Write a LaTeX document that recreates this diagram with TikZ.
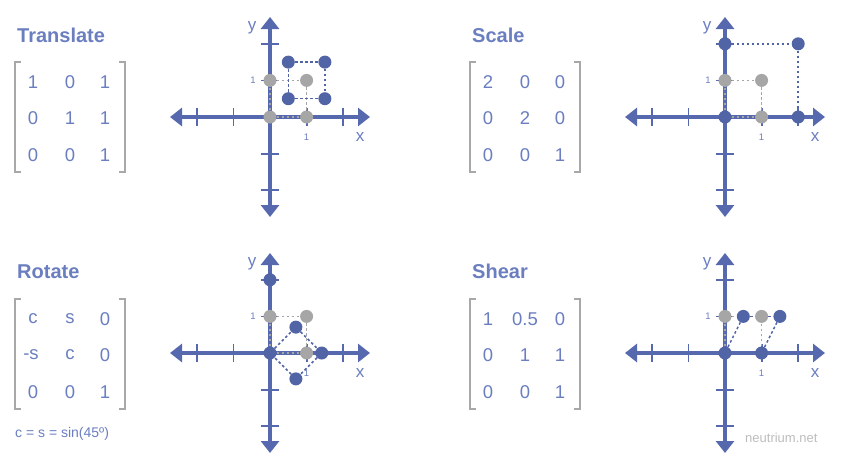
\documentclass[tikz,border=0pt]{standalone}
\usepackage{fontspec}
\setmainfont{Liberation Sans}
\usetikzlibrary{arrows.meta}
\definecolor{axblue}{HTML}{5668AE}
\definecolor{dotblue}{HTML}{5064A6}
\definecolor{txtblue}{HTML}{6A7EC0}
\definecolor{dotgray}{HTML}{A6A6A6}
\definecolor{brgray}{HTML}{A8A8A8}
\definecolor{wmgray}{HTML}{BDBDBD}
\tikzset{
 axisline/.style={axblue, line width=4pt, {Triangle[length=12pt,width=18pt]}-{Triangle[length=12pt,width=18pt]}},
 tickline/.style={axblue, line width=1.8pt},
 bdot/.style={circle, fill=dotblue, inner sep=0pt, minimum size=13pt},
 gdot/.style={circle, fill=dotgray, inner sep=0pt, minimum size=13pt},
 bdash/.style={dotblue, line width=1.5pt, dash pattern=on 2.6pt off 2.4pt},
 gdash/.style={dotgray, line width=1.5pt, dash pattern=on 2.6pt off 2.4pt},
 titletext/.style={anchor=base west, txtblue, font=\bfseries\fontsize{20}{24}\selectfont, inner sep=0pt},
 entry/.style={txtblue, font=\fontsize{18.5}{20}\selectfont, inner sep=0pt},
 ticklab/.style={txtblue, font=\fontsize{9.5}{10}\selectfont, inner sep=0pt},
 axlab/.style={txtblue, font=\fontsize{17}{18}\selectfont, inner sep=0pt},
 bracketline/.style={brgray, line width=1.8pt},
 panel/.style={x=36.6pt, y=36.6pt},
}
\newcommand\myaxes[1]{%
 \coordinate (#1L) at (-100pt,0); \coordinate (#1R) at (100pt,0);
 \coordinate (#1T) at (0,100pt); \coordinate (#1B) at (0,-100pt);
 \draw[axisline] (#1L) -- (#1R);
 \draw[axisline] (#1B) -- (#1T);
 \foreach \k in {-2,-1,1,2} {\draw[tickline] (\k,-9pt) -- (\k,9pt); \draw[tickline] (-9pt,\k) -- (9pt,\k);}
 \node[axlab] (#1x) at (90pt,-20pt) {x};
 \node[axlab] (#1y) at (-18pt,89pt) {y};
 \node[ticklab] (#1one) at (1,-20pt) {1};
 \node[ticklab] (#1onev) at (-17pt,1) {1};
}
\newcommand\mymatrix[1]{%
 \draw[bracketline] (6,0) -- (0,0) -- (0,110) -- (6,110);
 \draw[bracketline] (104,0) -- (110,0) -- (110,110) -- (104,110);
}
\begin{document}
\begin{tikzpicture}[x=1pt,y=-1pt]
\useasboundingbox (0,0) rectangle (853,474);
% ---------- Translate ----------
\node[titletext] (ttitle) at (17,42) {Translate};
\begin{scope}[shift={(15,62)}]
 \mymatrix{t}
 \node[entry] (tm11) at (18,20) {1}; \node[entry] (tm12) at (55,20) {0}; \node[entry] (tm13) at (90,20) {1};
 \node[entry] (tm21) at (18,56) {0}; \node[entry] (tm22) at (55,56) {1}; \node[entry] (tm23) at (90,56) {1};
 \node[entry] (tm31) at (18,93) {0}; \node[entry] (tm32) at (55,93) {0}; \node[entry] (tm33) at (90,93) {1};
\end{scope}
\begin{scope}[shift={(270,117)}, panel]
 \myaxes{ta}
 \node[gdot] (t00) at (0,0) {}; \node[gdot] (t10) at (1,0) {};
 \node[gdot] (t01) at (0,1) {}; \node[gdot] (t11) at (1,1) {};
 \node[bdot] (te) at (0.5,0.5) {}; \node[bdot] (tf) at (1.5,0.5) {};
 \node[bdot] (tg) at (0.5,1.5) {}; \node[bdot] (th) at (1.5,1.5) {};
 \draw[gdash] (t00) -- (t10); \draw[gdash] (t00) -- (t01);
 \draw[gdash] (t01) -- (t11); \draw[gdash] (t11) -- (t10);
 \draw[bdash] (te) -- (tf); \draw[bdash] (te) -- (tg);
 \draw[bdash] (tg) -- (th); \draw[bdash] (th) -- (tf);
\end{scope}
% ---------- Scale ----------
\node[titletext] (stitle) at (472,42) {Scale};
\begin{scope}[shift={(470,62)}]
 \mymatrix{s}
 \node[entry] (sm11) at (18,20) {2}; \node[entry] (sm12) at (55,20) {0}; \node[entry] (sm13) at (90,20) {0};
 \node[entry] (sm21) at (18,56) {0}; \node[entry] (sm22) at (55,56) {2}; \node[entry] (sm23) at (90,56) {0};
 \node[entry] (sm31) at (18,93) {0}; \node[entry] (sm32) at (55,93) {0}; \node[entry] (sm33) at (90,93) {1};
\end{scope}
\begin{scope}[shift={(725,117)}, panel]
 \myaxes{sa}
 \node[bdot] (s00) at (0,0) {}; \node[bdot] (s20) at (2,0) {};
 \node[bdot] (s02) at (0,2) {}; \node[bdot] (s22) at (2,2) {};
 \node[gdot] (s10) at (1,0) {}; \node[gdot] (s01) at (0,1) {}; \node[gdot] (s11) at (1,1) {};
 \draw[gdash] (s00) -- (s10); \draw[gdash] (s00) -- (s01);
 \draw[gdash] (s01) -- (s11); \draw[gdash] (s11) -- (s10);
 \draw[bdash] (s02) -- (s22); \draw[bdash] (s22) -- (s20);
\end{scope}
% ---------- Rotate ----------
\node[titletext] (rtitle) at (17,278) {Rotate};
\begin{scope}[shift={(15,299)}]
 \mymatrix{r}
 \node[entry] (rm11) at (18,20) {c}; \node[entry] (rm12) at (55,20) {s}; \node[entry] (rm13) at (90,20) {0};
 \node[entry] (rm21) at (16,56) {-s}; \node[entry] (rm22) at (55,56) {c}; \node[entry] (rm23) at (90,56) {0};
 \node[entry] (rm31) at (18,93) {0}; \node[entry] (rm32) at (55,93) {0}; \node[entry] (rm33) at (90,93) {1};
\end{scope}
\node[anchor=base west, txtblue, font=\fontsize{14}{16}\selectfont, inner sep=0pt] (rnote) at (15,437) {c = s = sin(45º)};
\begin{scope}[shift={(270,353)}, panel]
 \myaxes{ra}
 \node[gdot] (r10) at (1,0) {}; \node[gdot] (r01) at (0,1) {}; \node[gdot] (r11) at (1,1) {};
 \node[bdot] (r00) at (0,0) {}; \node[bdot] (r02) at (0,2) {};
 \node[bdot] (ru) at (0.707,0.707) {}; \node[bdot] (rr) at (1.414,0) {}; \node[bdot] (rd) at (0.707,-0.707) {};
 \draw[gdash] (r00) -- (r10); \draw[gdash] (r00) -- (r01);
 \draw[gdash] (r01) -- (r11); \draw[gdash] (r11) -- (r10);
 \draw[bdash] (r00) -- (ru); \draw[bdash] (ru) -- (rr);
 \draw[bdash] (rr) -- (rd); \draw[bdash] (rd) -- (r00);
\end{scope}
% ---------- Shear ----------
\node[titletext] (htitle) at (472,278) {Shear};
\begin{scope}[shift={(470,299)}]
 \mymatrix{h}
 \node[entry] (hm11) at (18,20) {1}; \node[entry] (hm12) at (55,20) {0.5}; \node[entry] (hm13) at (90,20) {0};
 \node[entry] (hm21) at (18,56) {0}; \node[entry] (hm22) at (55,56) {1}; \node[entry] (hm23) at (90,56) {1};
 \node[entry] (hm31) at (18,93) {0}; \node[entry] (hm32) at (55,93) {0}; \node[entry] (hm33) at (90,93) {1};
\end{scope}
\begin{scope}[shift={(725,353)}, panel]
 \myaxes{ha}
 \node[bdot] (h00) at (0,0) {}; \node[bdot] (h10) at (1,0) {};
 \node[gdot] (h01) at (0,1) {}; \node[gdot] (h11) at (1,1) {};
 \node[bdot] (hp) at (0.5,1) {}; \node[bdot] (hq) at (1.5,1) {};
 \draw[gdash] (h00) -- (h01); \draw[gdash] (h10) -- (h11);
 \draw[gdash] (h01) -- (hp);
 \draw[bdash] (hp) -- (h11); \draw[bdash] (h11) -- (hq);
 \draw[bdash] (h00) -- (hp); \draw[bdash] (h10) -- (hq);
\end{scope}
\node[anchor=base west, wmgray, font=\fontsize{13}{15}\selectfont, inner sep=0pt] (wm) at (745,442) {neutrium.net};
\end{tikzpicture}
\end{document}
